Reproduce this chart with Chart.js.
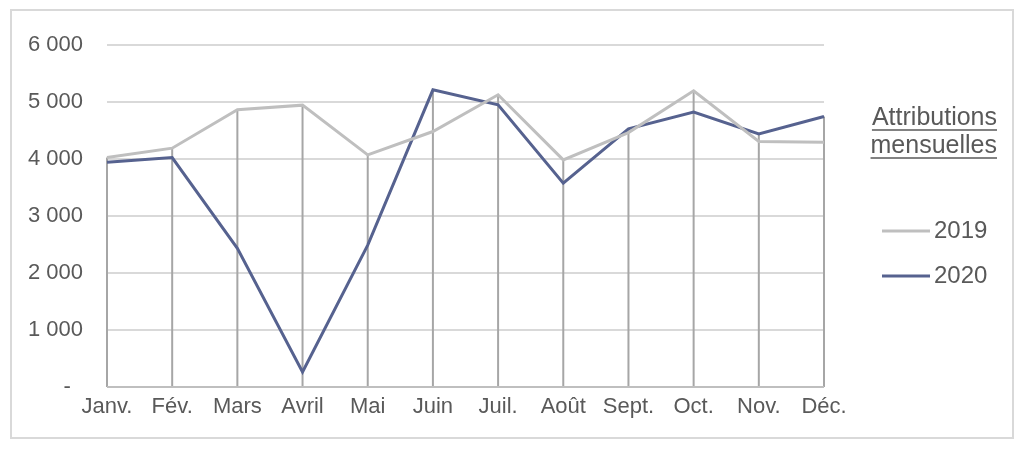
<!DOCTYPE html>
<html>
<head>
<meta charset="utf-8">
<script src="https://cdn.jsdelivr.net/npm/chart.js@4.4.0/dist/chart.umd.min.js"></script>
<style>
  html, body { margin: 0; padding: 0; background: #ffffff; }
  #wrap { width: 1024px; height: 450px; position: relative; }
</style>
</head>
<body>
<div id="wrap"><canvas id="c" width="1024" height="450"></canvas></div>
<script>
const months = ["Janv.", "Fév.", "Mars", "Avril", "Mai", "Juin", "Juil.", "Août", "Sept.", "Oct.", "Nov.", "Déc."];
const values2019 = [4025, 4190, 4863, 4945, 4072, 4482, 5127, 3984, 4464, 5197, 4306, 4295];
const values2020 = [3944, 4025, 2432, 264, 2490, 5214, 4951, 3575, 4529, 4822, 4441, 4745];
const seriesLabels = ["2019", "2020"];
const legendTitle = ["Attributions", "mensuelles"];

const TEXT = '#595959';
const FONT = '"Liberation Sans", Arial, sans-serif';

function fmt(v) {
  if (v === 0) return '-  ';
  return String(v).replace(/\B(?=(\d{3})+(?!\d))/g, ' ');
}

const framePlugin = {
  id: 'frame',
  beforeDraw(chart) {
    const ctx = chart.ctx;
    ctx.save();
    ctx.fillStyle = '#ffffff';
    ctx.fillRect(0, 0, chart.width, chart.height);
    ctx.strokeStyle = '#d9d9d9';
    ctx.lineWidth = 2;
    ctx.strokeRect(11, 10, 1002, 428);
    ctx.restore();
  }
};

const dropLinesPlugin = {
  id: 'dropLines',
  beforeDatasetsDraw(chart) {
    const ctx = chart.ctx;
    const xs = chart.scales.x, ys = chart.scales.y;
    const n = chart.data.labels.length;
    ctx.save();
    ctx.strokeStyle = '#a6a6a6';
    ctx.lineWidth = 2;
    for (let i = 0; i < n; i++) {
      let mx = -Infinity;
      chart.data.datasets.forEach(ds => { if (ds.data[i] > mx) mx = ds.data[i]; });
      const x = xs.getPixelForValue(i);
      ctx.beginPath();
      ctx.moveTo(x, ys.getPixelForValue(mx));
      ctx.lineTo(x, ys.getPixelForValue(0));
      ctx.stroke();
    }
    ctx.strokeStyle = '#bfbfbf';
    ctx.beginPath();
    ctx.moveTo(chart.chartArea.left, ys.getPixelForValue(0));
    ctx.lineTo(chart.chartArea.right, ys.getPixelForValue(0));
    ctx.stroke();
    ctx.restore();
  }
};

const legendPlugin = {
  id: 'customLegend',
  afterDraw(chart) {
    const ctx = chart.ctx;
    ctx.save();
    ctx.fillStyle = TEXT;
    ctx.strokeStyle = TEXT;
    ctx.font = '25px ' + FONT;
    ctx.textAlign = 'right';
    ctx.textBaseline = 'alphabetic';
    const rightX = 997;
    const baselines = [125, 153];
    legendTitle.forEach((t, i) => {
      ctx.fillText(t, rightX, baselines[i]);
      const w = ctx.measureText(t).width;
      ctx.lineWidth = 1.5;
      ctx.beginPath();
      ctx.moveTo(rightX - w, baselines[i] + 5);
      ctx.lineTo(rightX, baselines[i] + 5);
      ctx.stroke();
    });
    ctx.font = '24px ' + FONT;
    ctx.textAlign = 'left';
    ctx.textBaseline = 'middle';
    const ys = [231, 276];
    chart.data.datasets.forEach((ds, i) => {
      ctx.strokeStyle = ds.borderColor;
      ctx.lineWidth = 3;
      ctx.beginPath();
      ctx.moveTo(882, ys[i]);
      ctx.lineTo(930, ys[i]);
      ctx.stroke();
      ctx.fillStyle = TEXT;
      ctx.fillText(ds.label, 934, ys[i]);
    });
    ctx.restore();
  }
};

new Chart(document.getElementById('c'), {
  type: 'line',
  data: {
    labels: months,
    datasets: [
      { label: seriesLabels[0], data: values2019, borderColor: '#bfbfbf', borderWidth: 3, pointRadius: 0, tension: 0, fill: false },
      { label: seriesLabels[1], data: values2020, borderColor: '#56628f', borderWidth: 3, pointRadius: 0, tension: 0, fill: false }
    ]
  },
  options: {
    responsive: false,
    animation: false,
    events: [],
    layout: { padding: { left: 0, right: 200, top: 45, bottom: 0 } },
    plugins: { legend: { display: false }, tooltip: { enabled: false }, title: { display: false } },
    scales: {
      x: {
        type: 'category',
        offset: false,
        grid: { display: false, drawTicks: false },
        border: { display: false },
        ticks: { color: TEXT, font: { family: FONT, size: 22 }, padding: 7, maxRotation: 0, autoSkip: false },
        afterFit(axis) { axis.height = 63; }
      },
      y: {
        min: 0, max: 6000,
        grid: { color: ctx => ctx.tick && ctx.tick.value === 0 ? 'rgba(0,0,0,0)' : '#d9d9d9', lineWidth: 2, drawTicks: false },
        border: { display: false },
        ticks: { stepSize: 1000, color: TEXT, font: { family: FONT, size: 22 }, padding: 24, callback: v => fmt(v) },
        afterFit(axis) { axis.width = 107; }
      }
    }
  },
  plugins: [framePlugin, dropLinesPlugin, legendPlugin]
});
</script>
</body>
</html>
